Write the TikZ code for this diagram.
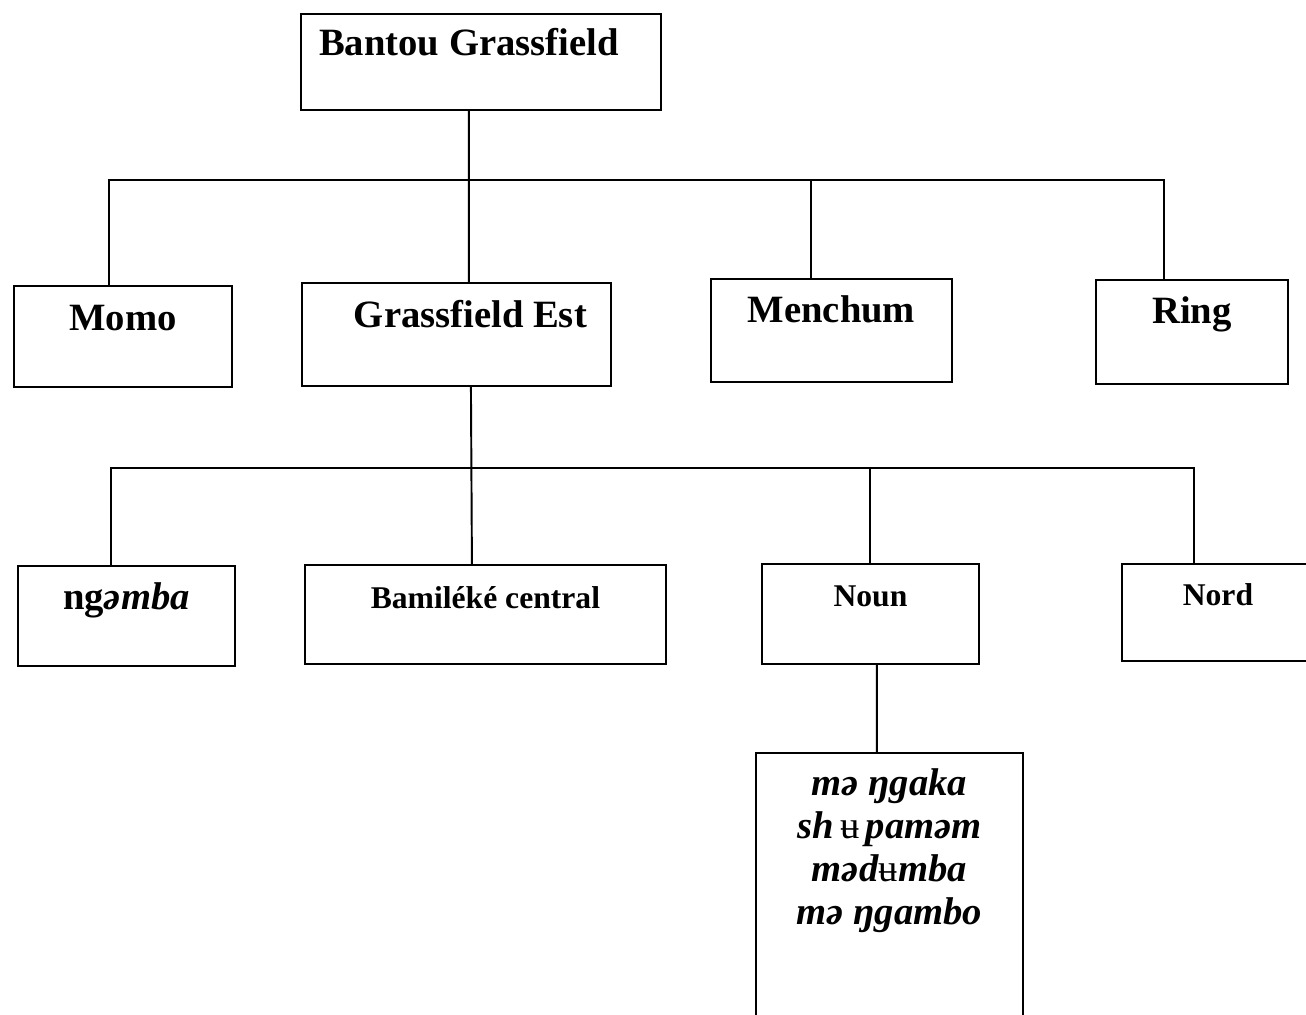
\documentclass[tikz,border=0pt]{standalone}
\usepackage{fontspec}
\setmainfont{Liberation Serif}
\usetikzlibrary{positioning}

\begin{document}
\begin{tikzpicture}[
  x=0.02cm, y=-0.02cm,
  langbox/.style={draw, line width=1.1pt, inner sep=0pt, anchor=north west,
               font=\fontsize{22}{26}\selectfont\bfseries},
  subbox/.style={langbox, font=\fontsize{18}{22}\selectfont\bfseries},
  link/.style={line width=1.1pt}
]
\useasboundingbox (0,0) rectangle (1306,1015);
\clip (0,0) rectangle (1306,1015);

% level 1
\node[langbox, minimum width=7.2cm, text height=0.84cm, text depth=1.08cm] (bantou) at (300,13) {Bantou Grassfield\hspace*{0.48cm}};

% level 2
\node[langbox, minimum width=4.36cm, text height=0.9cm, text depth=1.12cm] (momo)     at (13,285)   {Momo};
\node[langbox, minimum width=6.18cm, text height=0.9cm, text depth=1.16cm] (grassest) at (301,282)  {\hspace*{0.56cm}Grassfield Est};
\node[langbox, minimum width=4.82cm, text height=0.88cm, text depth=1.18cm] (menchum) at (710,278)  {Menchum};
\node[langbox, minimum width=3.84cm, text height=0.88cm, text depth=1.2cm] (ring)     at (1095,279) {Ring};

% level 3
\node[langbox, minimum width=4.34cm, text height=0.88cm, text depth=1.12cm] (ngemba)  at (17,565)   {ng\textit{əmba}};
\node[subbox, minimum width=7.22cm, text height=0.88cm, text depth=1.1cm] (bamileke) at (304,564)  {Bamiléké central};
\node[subbox, minimum width=4.34cm, text height=0.86cm, text depth=1.14cm] (noun)     at (761,563)  {Noun};
\node[subbox, minimum width=3.84cm, text height=0.84cm, text depth=1.1cm] (nord)      at (1121,563) {Nord};

% level 4
\node[langbox, minimum width=5.34cm, text height=0.86cm, text depth=4.9cm] (dialects) at (755,752)
  {\fontsize{22}{24.4}\selectfont\begin{tabular}[t]{@{}c@{}}
   \textit{mə ŋgaka}\\
   \textit{sh}\,{\mdseries\upshape ʉ}\,\textit{paməm}\\
   \textit{məd}{\mdseries\upshape ʉ}\textit{mba}\\
   \textit{mə ŋgambo}
   \end{tabular}};

% taps
\coordinate (bus1) at (0,180);
\coordinate (bus2) at (0,468);
\coordinate (bantou-out)   at ([xshift=-0.24cm]bantou.south);
\coordinate (grassest-in)  at ([xshift=0.25cm]grassest.north);
\coordinate (grassest-out) at ([xshift=0.29cm]grassest.south);
\coordinate (momo-in)      at ([xshift=-0.28cm]momo.north);
\coordinate (menchum-in)   at ([xshift=-0.41cm]menchum.north);
\coordinate (ring-in)      at ([xshift=-0.56cm]ring.north);
\coordinate (ngemba-in)    at ([xshift=-0.31cm]ngemba.north);
\coordinate (bamileke-in)  at ([xshift=-0.27cm]bamileke.north);
\coordinate (noun-in)      at (noun.north);
\coordinate (noun-out)     at ([xshift=0.13cm]noun.south);
\coordinate (nord-in)      at ([xshift=-0.48cm]nord.north);
\coordinate (dialects-in)  at ([xshift=-0.25cm]dialects.north);

\draw[link] (bantou-out) -- (grassest-in);
\draw[link] (momo-in) |- (bus1 -| ring-in) -- (ring-in);
\draw[link] (menchum-in) -- (menchum-in |- bus1);
\draw[link] (grassest-out) -- (bamileke-in);
\draw[link] (ngemba-in) |- (bus2 -| nord-in) -- (nord-in);
\draw[link] (noun-in) -- (noun-in |- bus2);
\draw[link] (noun-out) -- (dialects-in);
\end{tikzpicture}
\end{document}
